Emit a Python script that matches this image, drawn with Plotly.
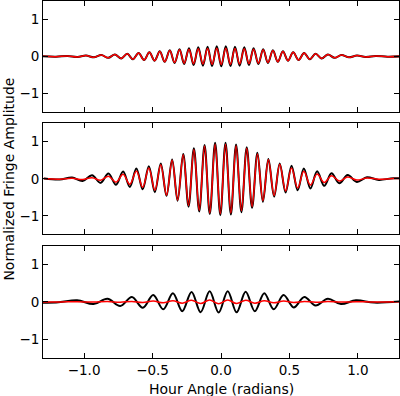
import plotly.graph_objects as go

# ---- data: extrema (hour angle, signed amplitude) ----
top_h = [-1.314, -1.205, -1.121, -1.049, -0.986, -0.928, -0.874, -0.823, -0.775, -0.729,
         -0.685, -0.643, -0.602, -0.562, -0.523, -0.485, -0.447, -0.411, -0.374, -0.339,
         -0.303, -0.269, -0.234, -0.200, -0.166, -0.132, -0.098, -0.065, -0.031, 0.002,
         0.035, 0.069, 0.102, 0.136, 0.170, 0.204, 0.238, 0.273, 0.308, 0.343,
         0.379, 0.415, 0.452, 0.489, 0.527, 0.567, 0.607, 0.648, 0.691, 0.735,
         0.781, 0.829, 0.880, 0.934, 0.993, 1.057, 1.130, 1.216, 1.330]
top_black = [0.004, -0.008, 0.011, -0.016, 0.021, -0.027, 0.034, -0.041, 0.050, -0.058,
             0.068, -0.078, 0.090, -0.100, 0.110, -0.120, 0.135, -0.150, 0.163, -0.178,
             0.193, -0.207, 0.220, -0.233, 0.244, -0.252, 0.260, -0.265, 0.270, -0.270,
             0.270, -0.265, 0.260, -0.252, 0.244, -0.233, 0.220, -0.207, 0.193, -0.178,
             0.163, -0.150, 0.135, -0.120, 0.110, -0.100, 0.090, -0.078, 0.068, -0.058,
             0.050, -0.041, 0.034, -0.027, 0.021, -0.016, 0.011, -0.008, 0.004]
top_red = [0.004, -0.008, 0.011, -0.016, 0.021, -0.027, 0.034, -0.041, 0.050, -0.058,
           0.068, -0.078, 0.090, -0.100, 0.110, -0.120, 0.130, -0.145, 0.158, -0.168,
           0.178, -0.187, 0.195, -0.200, 0.205, -0.210, 0.214, -0.217, 0.220, -0.220,
           0.220, -0.217, 0.214, -0.210, 0.205, -0.200, 0.195, -0.187, 0.178, -0.168,
           0.158, -0.145, 0.130, -0.120, 0.110, -0.100, 0.090, -0.078, 0.068, -0.058,
           0.050, -0.041, 0.034, -0.027, 0.021, -0.016, 0.011, -0.008, 0.004]

mid_h = [-1.294, -1.178, -1.088, -1.011, -0.942, -0.880, -0.822, -0.767, -0.715, -0.666,
         -0.618, -0.572, -0.527, -0.483, -0.440, -0.398, -0.357, -0.317, -0.276, -0.237,
         -0.198, -0.159, -0.120, -0.082, -0.043, -0.005, 0.033, 0.072, 0.110, 0.149,
         0.188, 0.227, 0.266, 0.306, 0.346, 0.388, 0.429, 0.472, 0.515, 0.560,
         0.605, 0.653, 0.702, 0.754, 0.807, 0.864, 0.925, 0.992, 1.066, 1.153,
         1.260, 1.431]
mid_black = [0.010, -0.020, 0.035, -0.060, 0.095, -0.110, 0.145, -0.160, 0.195, -0.220,
             0.275, -0.285, 0.340, -0.360, 0.410, -0.460, 0.520, -0.590, 0.670, -0.750,
             0.820, -0.880, 0.910, -0.950, 0.970, -0.980, 0.970, -0.960, 0.920, -0.900,
             0.850, -0.780, 0.700, -0.620, 0.530, -0.480, 0.410, -0.370, 0.350, -0.310,
             0.280, -0.260, 0.200, -0.190, 0.150, -0.120, 0.100, -0.085, 0.040, -0.030,
             0.015, 0.000]
mid_red = [0.005, -0.010, 0.015, -0.020, 0.030, -0.040, 0.070, -0.090, 0.120, -0.150,
           0.210, -0.230, 0.290, -0.310, 0.380, -0.440, 0.500, -0.570, 0.650, -0.720,
           0.790, -0.850, 0.880, -0.920, 0.930, -0.940, 0.930, -0.920, 0.890, -0.860,
           0.820, -0.750, 0.670, -0.590, 0.510, -0.450, 0.390, -0.330, 0.290, -0.250,
           0.200, -0.170, 0.130, -0.100, 0.080, -0.060, 0.050, -0.035, 0.020, -0.012,
           0.006, 0.000]

bot_h = [-1.520, -1.204, -1.051, -0.931, -0.829, -0.736, -0.651, -0.571, -0.495, -0.422,
         -0.351, -0.283, -0.215, -0.149, -0.083, -0.017, 0.049, 0.114, 0.180, 0.247,
         0.316, 0.385, 0.457, 0.531, 0.609, 0.691, 0.780, 0.876, 0.986, 1.118, 1.304]
bot_black = [0.000, -0.020, 0.040, -0.060, 0.085, -0.110, 0.130, -0.160, 0.180, -0.200,
             0.230, -0.250, 0.265, -0.275, 0.280, -0.285, 0.285, -0.280, 0.270, -0.250,
             0.230, -0.200, 0.180, -0.150, 0.130, -0.100, 0.080, -0.060, 0.040, -0.020,
             0.010]
bot_red = [0.000, -0.004, 0.005, -0.007, 0.008, -0.010, 0.012, -0.015, 0.020, -0.025,
           0.030, -0.035, 0.040, -0.045, 0.050, -0.050, 0.050, -0.045, 0.040, -0.035,
           0.030, -0.025, 0.020, -0.015, 0.012, -0.010, 0.008, -0.007, 0.005, -0.004,
           0.002]

x_tickvals = [-1.0, -0.5, 0.0, 0.5, 1.0]
x_ticktext = ["\u22121.0", "\u22120.5", "0.0", "0.5", "1.0"]
y_tickvals = [-1, 0, 1]
y_ticktext = ["\u22121", "0", "1"]

panels = [(top_h, top_black, top_red), (mid_h, mid_black, mid_red), (bot_h, bot_black, bot_red)]
domains = [[0.690, 1.0], [0.346, 0.658], [0.0, 0.3146]]

FONT = "DejaVu Sans"
fig = go.Figure()
for i, (h, b, r) in enumerate(panels):
    suf = "" if i == 0 else str(i + 1)
    fig.add_trace(go.Scatter(x=h, y=b, xaxis="x" + suf, yaxis="y" + suf, mode="lines",
                             line=dict(color="black", width=2, shape="spline", smoothing=1),
                             hoverinfo="skip", showlegend=False))
    fig.add_trace(go.Scatter(x=h, y=r, xaxis="x" + suf, yaxis="y" + suf, mode="lines",
                             line=dict(color="red", width=1.5, shape="spline", smoothing=1),
                             hoverinfo="skip", showlegend=False))
    common = dict(showline=True, linecolor="black", linewidth=1, mirror="ticks",
                  ticks="inside", ticklen=5, tickwidth=1, tickcolor="black",
                  showgrid=False, zeroline=False, automargin=False,
                  tickfont=dict(family=FONT, size=13.5, color="black"))
    fig.layout["xaxis" + suf] = dict(range=[-1.3, 1.3], anchor="y" + suf,
                                     tickvals=x_tickvals, ticktext=x_ticktext,
                                     showticklabels=(i == 2), **common)
    fig.layout["yaxis" + suf] = dict(range=[-1.5, 1.5], anchor="x" + suf, domain=domains[i],
                                     tickvals=y_tickvals, ticktext=y_ticktext, **common)

fig.update_layout(
    width=400, height=396,
    margin=dict(l=43, r=1, t=1, b=38),
    plot_bgcolor="white", paper_bgcolor="white",
    font=dict(family=FONT, color="black"),
    annotations=[
        dict(text="Hour Angle (radians)", x=0.5, y=-0.087, xref="paper", yref="paper",
             showarrow=False, font=dict(family=FONT, size=14, color="black"),
             xanchor="center", yanchor="middle"),
        dict(text="Normalized Fringe Amplitude", x=-0.098, y=0.5, xref="paper", yref="paper",
             showarrow=False, textangle=-90, font=dict(family=FONT, size=14, color="black"),
             xanchor="center", yanchor="middle"),
    ],
)

fig.write_html("out.html", config={"displayModeBar": False},
               post_script="document.body.style.margin='0px';document.body.style.overflow='hidden';")
